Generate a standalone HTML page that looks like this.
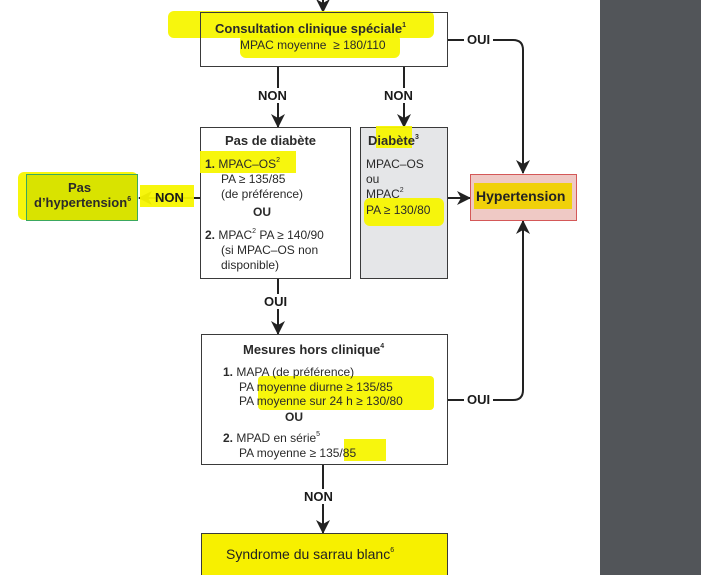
<!DOCTYPE html>
<html><head><meta charset="utf-8"><style>
html,body{margin:0;width:701px;height:575px;overflow:hidden}
body{background:#fff;font-family:"Liberation Sans",sans-serif;color:#2a2a2a;position:relative}
.a{position:absolute}
.box{position:absolute;border:1.5px solid #3a3a3a;box-sizing:border-box;background:#fff}
.hl{position:absolute;background:#f7f500;opacity:.95}
.b{font-weight:bold}
.t{position:absolute;font-size:12px;line-height:14px;white-space:nowrap}
sup{font-size:7px;vertical-align:top;line-height:8px}
.lbl{position:absolute;font-weight:bold;font-size:13px;background:#fff;color:#1a1a1a}
</style></head><body>
<div class="a" style="left:600px;top:0;width:101px;height:575px;background:#525559"></div>

<svg class="a" style="left:0;top:0" width="600" height="575">
<defs><marker id="m" markerWidth="14" markerHeight="14" refX="13" refY="7" orient="auto" markerUnits="userSpaceOnUse"><path d="M0,0 L14,7 L0,14 L4,7z" fill="#222"/></marker></defs>
<g stroke="#222" stroke-width="2" fill="none">
<line x1="323" y1="0" x2="323" y2="12" marker-end="url(#m)"/>
<line x1="278" y1="66" x2="278" y2="127" marker-end="url(#m)"/>
<line x1="404" y1="66" x2="404" y2="127" marker-end="url(#m)"/>
<line x1="200" y1="198" x2="139" y2="198" marker-end="url(#m)"/>
<line x1="448" y1="198" x2="470" y2="198" marker-end="url(#m)"/>
<line x1="278" y1="278" x2="278" y2="334" marker-end="url(#m)"/>
<line x1="323" y1="464" x2="323" y2="533" marker-end="url(#m)"/>
<path d="M448,40 H513 Q523,40 523,50 V173" marker-end="url(#m)"/>
<path d="M448,400 H513 Q523,400 523,390 V221" marker-end="url(#m)"/>
</g></svg>

<div class="lbl" style="left:256px;top:88px;padding:0 2px">NON</div>
<div class="lbl" style="left:382px;top:88px;padding:0 2px">NON</div>
<div class="lbl" style="left:464px;top:32px;padding:0 3px">OUI</div>
<div class="lbl" style="left:464px;top:392px;padding:0 3px">OUI</div>
<div class="lbl" style="left:262px;top:294px;padding:0 2px">OUI</div>
<div class="lbl" style="left:302px;top:489px;padding:0 2px">NON</div>

<!-- top box -->
<div class="hl" style="left:168px;top:11px;width:266px;height:27px;border-radius:6px"></div>
<div class="hl" style="left:240px;top:34px;width:160px;height:24px;border-radius:6px"></div>
<div class="box" style="left:200px;top:12px;width:248px;height:55px;background:transparent"></div>
<div class="t b" style="left:215px;top:22px;font-size:13px">Consultation clinique spéciale<sup>1</sup></div>
<div class="t" style="left:240px;top:38px">MPAC moyenne&nbsp; ≥ 180/110</div>

<!-- pas de diabete -->
<div class="box" style="left:200px;top:127px;width:151px;height:152px"></div>
<div class="hl" style="left:200px;top:151px;width:96px;height:22px"></div>
<div class="t b" style="left:225px;top:134px;font-size:13px">Pas de diabète</div>
<div class="t" style="left:205px;top:157px"><b>1.</b> MPAC–OS<sup>2</sup></div>
<div class="t" style="left:221px;top:172px">PA ≥ 135/85</div>
<div class="t" style="left:221px;top:187px">(de préférence)</div>
<div class="t b" style="left:253px;top:205px">OU</div>
<div class="t" style="left:205px;top:228px"><b>2.</b> MPAC<sup>2</sup> PA ≥ 140/90</div>
<div class="t" style="left:221px;top:243px">(si MPAC–OS non</div>
<div class="t" style="left:221px;top:258px">disponible)</div>

<!-- diabete -->
<div class="box" style="left:360px;top:127px;width:88px;height:152px;background:#e5e6e8"></div>
<div class="hl" style="left:376px;top:126px;width:36px;height:22px"></div>
<div class="hl" style="left:364px;top:198px;width:80px;height:28px;border-radius:6px"></div>
<div class="t b" style="left:368px;top:134px;font-size:13px">Diabète<sup>3</sup></div>
<div class="t" style="left:366px;top:157px">MPAC–OS</div>
<div class="t" style="left:366px;top:172px">ou</div>
<div class="t" style="left:366px;top:187px">MPAC<sup>2</sup></div>
<div class="t" style="left:366px;top:203px">PA ≥ 130/80</div>

<!-- hypertension -->
<div class="box" style="left:470px;top:174px;width:107px;height:47px;background:#efc9c5;border-color:#d45858"></div>
<div class="hl" style="left:474px;top:183px;width:98px;height:26px;background:#efd200"></div>
<div class="t b" style="left:476px;top:189px;font-size:14px;color:#222">Hypertension</div>

<!-- pas d'hypertension -->
<div class="hl" style="left:18px;top:172px;width:120px;height:48px;border-radius:6px"></div>
<div class="hl" style="left:140px;top:185px;width:54px;height:22px"></div>
<div class="box" style="left:26px;top:174px;width:112px;height:47px;background:#d9e300;border-color:#3aa860"></div>
<div class="t b" style="left:68px;top:181px;font-size:13px">Pas</div>
<div class="t b" style="left:34px;top:196px;font-size:13px">d’hypertension<sup>6</sup></div>
<div class="lbl" style="left:155px;top:190px;background:transparent">NON</div>

<!-- mesures -->
<div class="box" style="left:201px;top:334px;width:247px;height:131px"></div>
<div class="hl" style="left:258px;top:376px;width:176px;height:34px;border-radius:4px"></div>
<div class="hl" style="left:344px;top:439px;width:42px;height:22px"></div>
<div class="t b" style="left:243px;top:343px;font-size:13px">Mesures hors clinique<sup>4</sup></div>
<div class="t" style="left:223px;top:365px"><b>1.</b> MAPA (de préférence)</div>
<div class="t" style="left:239px;top:380px">PA moyenne diurne ≥ 135/85</div>
<div class="t" style="left:239px;top:394px">PA moyenne sur 24 h ≥ 130/80</div>
<div class="t b" style="left:285px;top:410px">OU</div>
<div class="t" style="left:223px;top:431px"><b>2.</b> MPAD en série<sup>5</sup></div>
<div class="t" style="left:239px;top:446px">PA moyenne ≥ 135/85</div>

<!-- syndrome -->
<div class="box" style="left:201px;top:533px;width:247px;height:44px;background:#f7f000"></div>
<div class="t" style="left:226px;top:547px;font-size:14px;color:#222">Syndrome du sarrau blanc<sup>6</sup></div>
</body></html>
